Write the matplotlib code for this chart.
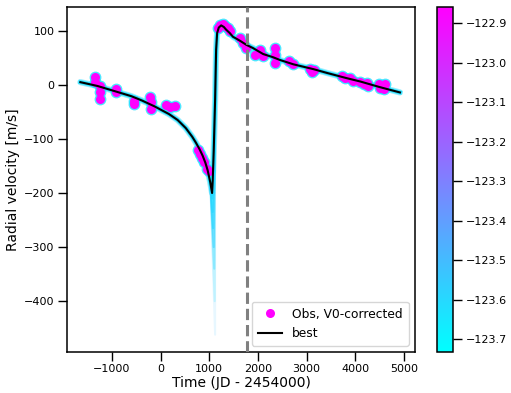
import numpy as np
import matplotlib
matplotlib.use("Agg")
import matplotlib.pyplot as plt
from matplotlib.colors import Normalize
from matplotlib.cm import ScalarMappable

# ---------------- data ----------------
obs_t = [-1350, -1345, -1250, -1245, -1240, -920, -915, -555, -550, -210, -200, -190,
         110, 200, 290, 760, 810, 850, 900, 950, 990, 1175, 1230, 1278, 1330, 1382, 1420,
         1624, 1693, 1763, 1936, 2040, 2108, 2350, 2352, 2355, 2640, 2730, 3080, 3120, 3160,
         3720, 3800, 3900, 3950, 4100, 4180, 4250, 4270, 4480, 4520, 4600, 4620]
obs_v = [14, 5, -2, -14, -26, -8, -14, -29, -36, -22, -32, -45,
         -38, -41, -40, -120, -128, -135, -143, -155, -160, 106, 110, 112, 108, 106, 99,
         87, 78, 68, 56, 65, 53, 68, 56, 40, 44, 39, 30, 24, 28,
         16, 13, 12, 8, 6, 2, 4, -3, 2, -5, -8, 1]

best_t = [-1650, -1300, -930, -600, -382, -120, 172, 350, 518, 650, 726, 800, 864, 920,
          967, 1020, 1058, 1071, 1092, 1120, 1141, 1162, 1196, 1245, 1300, 1348, 1420,
          1486, 1624, 1763, 1900, 2108, 2315, 2454, 2730, 3145, 3423, 3800, 4114, 4500, 4920]
best_v = [5, -2, -12, -21, -29, -40, -54, -65, -80, -96, -107, -119, -131, -144,
          -158, -180, -200, -177, -121, -28, 65, 96, 106, 110, 107, 102, 96,
          89, 82, 74, 68, 57, 51, 46, 38, 29, 22, 13, 6, -4, -14]

# model samples (V0 value, periastron dip time and depth)
model_v0 = [-123.62, -123.58, -123.66, -123.55, -123.60, -123.64, -123.52]
model_dip_t = [1062, 1070, 1080, 1092, 1102, 1112, 1120]
model_dip_v = [-210, -235, -265, -300, -340, -400, -462]
model_alpha = [0.8, 0.7, 0.6, 0.5, 0.35, 0.2, 0.12]

band_v0 = -123.60
v_line = 1770

cb_ticks = [-123.7, -123.6, -123.5, -123.4, -123.3, -123.2, -123.1, -123.0, -122.9]
vmin, vmax = -123.732, -122.859

# ---------------- plot ----------------
fig = plt.figure(figsize=(5.11, 3.93), dpi=100)
ax = fig.add_axes([67/511, 41/393, 348/511, 345/393])
cax = fig.add_axes([437/511, 41/393, 16/511, 345/393])

cmap = plt.get_cmap("cool")
norm = Normalize(vmin=vmin, vmax=vmax)

bt = np.array(best_t)
bv = np.array(best_v)
# model band
ax.plot(bt, bv, color=cmap(norm(band_v0)), lw=4.5, alpha=0.45, solid_capstyle="round", zorder=1)
ax.plot(bt, bv, color=cmap(norm(band_v0 - 0.05)), lw=3.0, alpha=0.8, zorder=1.1)
# deep periastron samples
left = bt < 1040
right = bt >= 1120
for v0, dt, dv, a in zip(model_v0, model_dip_t, model_dip_v, model_alpha):
    tt = np.concatenate([bt[left], [dt], bt[right]])
    vv = np.concatenate([bv[left], [dv], bv[right]])
    ax.plot(tt, vv, color=cmap(norm(v0)), lw=1.5, alpha=a, zorder=1.2)

# observations
ax.plot(obs_t, obs_v, "o", color=cmap(norm(-123.62)), ms=8.5, alpha=0.8, zorder=2,
        markeredgewidth=0)
ax.plot(obs_t, obs_v, "o", color="#ff00ff", ms=6.5, zorder=3, markeredgewidth=0,
        label="Obs, V0-corrected")
ax.plot(bt, bv, color="black", lw=1.5, zorder=4, label="best")

ax.axvline(v_line, color="gray", ls="--", lw=2.2, zorder=5)

ax.set_xlim(-1925, 5230)
ax.set_ylim(-494, 144)
ax.set_xticks([-1000, 0, 1000, 2000, 3000, 4000, 5000])
ax.set_yticks([-400, -300, -200, -100, 0, 100])
ax.set_xlabel("Time (JD - 2454000)", fontsize=10, labelpad=1)
ax.set_ylabel("Radial velocity [m/s]", fontsize=10, labelpad=3)
ax.tick_params(axis="both", labelsize=8, length=6.5, width=1, direction="out", pad=2.5)
for s in ax.spines.values():
    s.set_linewidth(1.1)

leg = ax.legend(loc="lower right", fontsize=8.8, frameon=True, handlelength=2.0,
                borderpad=0.5, labelspacing=0.5)
leg.get_frame().set_edgecolor("#cccccc")

sm = ScalarMappable(norm=norm, cmap=cmap)
cb = fig.colorbar(sm, cax=cax, ticks=cb_ticks)
cb.ax.set_yticklabels([f"{t:.1f}".replace("-", "\u2212") for t in cb_ticks])
cb.ax.tick_params(labelsize=8, length=6.5, width=1, pad=2.5)
cb.outline.set_linewidth(1.1)

fig.savefig("out.png", dpi=100)
